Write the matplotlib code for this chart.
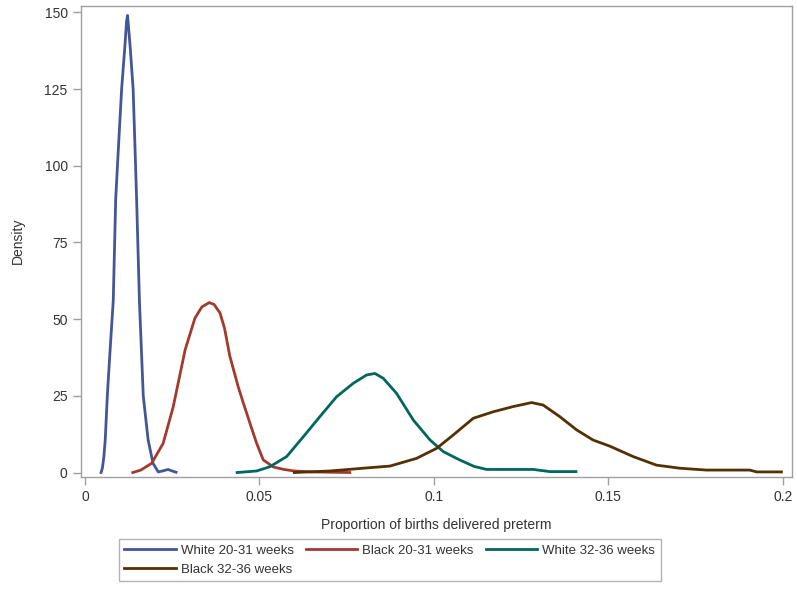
import matplotlib.pyplot as plt

plt.rcParams['font.family'] = ['Liberation Sans', 'DejaVu Sans']

# density curves
white_early_x = [0.0046, 0.0050, 0.0054, 0.0058, 0.0064, 0.0072, 0.0081, 0.0088, 0.0093,
                 0.0105, 0.0115, 0.0119, 0.0122, 0.0125, 0.0130, 0.0138, 0.0145, 0.0148,
                 0.0156, 0.0167, 0.0181, 0.0195, 0.0210, 0.0222, 0.0238, 0.0250, 0.0261]
white_early_y = [0, 1.5, 5, 10.6, 25, 40, 56, 89, 100,
                 125, 140, 147, 149, 145, 138, 125, 100, 89,
                 56, 25, 10.6, 3, 0.2, 0.5, 1.0, 0.5, 0.1]

black_early_x = [0.0137, 0.0160, 0.0191, 0.0224, 0.0253, 0.0287, 0.0315, 0.0335, 0.0356,
                 0.0370, 0.0387, 0.0400, 0.0415, 0.0439, 0.0454, 0.0473, 0.0492, 0.0511,
                 0.0540, 0.0570, 0.0600, 0.0650, 0.0700, 0.0759]
black_early_y = [0, 0.8, 3.0, 9.5, 21.5, 40, 50.3, 54, 55.4,
                 54.8, 52, 47, 38, 28, 22.6, 16, 9.5, 4.1,
                 1.8, 1.0, 0.5, 0.2, 0.1, 0]

white_late_x = [0.0436, 0.0492, 0.0530, 0.0578, 0.0626, 0.0673, 0.0721, 0.0769, 0.0807,
                0.0831, 0.0855, 0.0893, 0.0941, 0.0989, 0.1027, 0.1074, 0.1115, 0.1151,
                0.1285, 0.1332, 0.1407]
white_late_y = [0, 0.5, 1.9, 5.2, 11.7, 18.2, 24.7, 29.1, 31.8,
                32.3, 30.7, 25.8, 17.1, 10.6, 6.8, 4.1, 2.0, 1.0,
                1.0, 0.3, 0.3]

black_late_x = [0.0600, 0.0702, 0.0797, 0.0874, 0.0950, 0.1008, 0.1055, 0.1113, 0.1170,
                0.1227, 0.1280, 0.1313, 0.1361, 0.1409, 0.1456, 0.1504, 0.1571, 0.1638,
                0.1705, 0.1781, 0.1905, 0.1925, 0.1996]
black_late_y = [0, 0.5, 1.4, 2.1, 4.6, 7.9, 12.2, 17.7, 19.8,
                21.5, 22.8, 22.0, 18.2, 13.9, 10.6, 8.6, 5.2, 2.4,
                1.4, 0.8, 0.8, 0.2, 0.2]

labels = ["White 20-31 weeks", "Black 20-31 weeks", "White 32-36 weeks", "Black 32-36 weeks"]
colors = ["#445694", "#A23A2E", "#01665E", "#543005"]

xticks = [0, 0.05, 0.1, 0.15, 0.2]
xtick_labels = ["0", "0.05", "0.1", "0.15", "0.2"]
yticks = [0, 25, 50, 75, 100, 125, 150]

fig = plt.figure(figsize=(7.97, 5.94), dpi=100)
ax = fig.add_axes([0.1016, 0.1978, 0.892, 0.7921])

series = [(white_early_x, white_early_y), (black_early_x, black_early_y),
          (white_late_x, white_late_y), (black_late_x, black_late_y)]
lines = []
for (xs, ys), lab, col in zip(series, labels, colors):
    ln, = ax.plot(xs, ys, color=col, lw=2.0, label=lab, solid_joinstyle='round')
    lines.append(ln)

ax.set_xlim(-0.00115, 0.2026)
ax.set_ylim(-1.3, 152.1)
ax.set_xticks(xticks)
ax.set_xticklabels(xtick_labels)
ax.set_yticks(yticks)

for sp in ax.spines.values():
    sp.set_color("#A0A0A0")
    sp.set_linewidth(1.0)
ax.tick_params(direction='out', length=5.6, width=1.0, color="#A0A0A0",
               labelcolor="#333333", labelsize=10, pad=4)

ax.set_xlabel("Proportion of births delivered preterm", fontsize=10, color="#333333", labelpad=10)
ax.set_ylabel("Density", fontsize=10, color="#333333", labelpad=14)

# legend is filled row by row in the reference, matplotlib fills columns
order = [0, 3, 1, 2]
leg = fig.legend([lines[i] for i in order], [labels[i] for i in order],
                 loc='upper center', bbox_to_anchor=(0.489, 0.0926), ncol=3,
                 fontsize=9.5, handlelength=3.9, handletextpad=0.4, columnspacing=0.9,
                 fancybox=False, edgecolor="#A0A0A0", borderpad=0.4, labelspacing=0.55,
                 borderaxespad=0)
leg.get_frame().set_linewidth(1.0)
for t in leg.get_texts():
    t.set_color("#333333")

fig.savefig("out.png", dpi=100)
